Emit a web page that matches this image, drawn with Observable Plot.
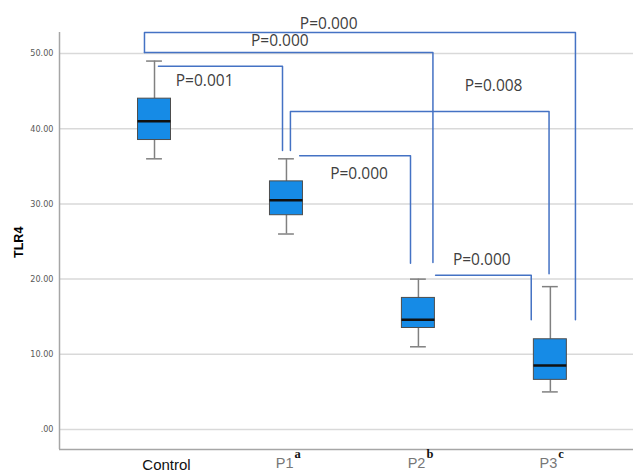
<!DOCTYPE html>
<html>
<head>
<meta charset="utf-8">
<script src="https://cdn.jsdelivr.net/npm/d3@7"></script>
<script src="https://cdn.jsdelivr.net/npm/@observablehq/plot@0.6"></script>
<style>
  html, body { margin: 0; padding: 0; background: #fff; }
  #chart svg { display: block; }
</style>
</head>
<body>
<div id="chart"></div>
<script>
// ---- data ----
const categories = ["Control", "P1", "P2", "P3"];
const superscripts = ["", "a", "b", "c"];
const whiskerLow  = [36.0, 26.0, 11.0, 5.0];
const q1          = [38.5, 28.5, 13.5, 6.6];
const median      = [41.0, 30.5, 14.6, 8.5];
const q3          = [44.0, 33.0, 17.5, 12.0];
const whiskerHigh = [49.0, 36.0, 20.0, 19.0];

const yTicks = [0, 10, 20, 30, 40, 50];

// brackets (x in category-index units, y in TLR4 units)
const bracketX1     = [-0.076, -0.076, 0.03, 1.03, 1.10, 2.13];
const bracketX2     = [3.19, 2.11, 0.97, 2.99, 1.94, 2.855];
const bracketTop    = [52.8, 50.13, 48.3, 42.3, 36.4, 20.5];
const bracketLeftTo = [50.13, null, null, 37.1, null, null];
const bracketRightTo= [14.6, 22.2, 37.1, 20.7, 22.1, 14.6];
const pLabels = ["P=0.000", "P=0.000", "P=0.001", "P=0.008", "P=0.000", "P=0.000"];
const pLabelX = [1.32, 0.95, 0.38, 2.57, 1.55, 2.48];
const pLabelY = [53.9, 51.6, 46.4, 45.7, 34.0, 22.5];

// ---- derived tables ----
const xDomain = [-0.72, 3.63];
const yDomain = [-2.66, 52.8];
const groups = categories.map((c, i) => ({
  i, c, sup: superscripts[i],
  lo: whiskerLow[i], q1: q1[i], med: median[i], q3: q3[i], hi: whiskerHigh[i]
}));
const bracketPts = [];
bracketX1.forEach((x1, k) => {
  if (bracketLeftTo[k] != null) bracketPts.push({k, x: x1, y: bracketLeftTo[k]});
  bracketPts.push({k, x: x1, y: bracketTop[k]});
  bracketPts.push({k, x: bracketX2[k], y: bracketTop[k]});
  bracketPts.push({k, x: bracketX2[k], y: bracketRightTo[k]});
});
const labels = pLabels.map((t, k) => ({t, x: pLabelX[k], y: pLabelY[k]}));
const boxHalf = 0.125, capHalf = 0.06;
const uiFont = "'Open Sans', 'Noto Sans', sans-serif";

const chart = Plot.plot({
  width: 633,
  height: 473,
  marginLeft: 59,
  marginRight: 0,
  marginTop: 32,
  marginBottom: 24,
  style: { fontFamily: uiFont, background: "#fff" },
  x: { type: "linear", domain: xDomain, axis: null },
  y: { domain: yDomain, axis: null },
  marks: [
    Plot.ruleY(yTicks, { stroke: "#d9d9d9", strokeWidth: 1.5 }),
    Plot.ruleX([xDomain[0]], { stroke: "#a6a6a6", strokeWidth: 1.5 }),
    Plot.ruleY([yDomain[0]], { stroke: "#a6a6a6", strokeWidth: 1.5 }),
    Plot.axisY(yTicks, {
      tickSize: 0, tickPadding: 6, label: null,
      tickFormat: d => d === 0 ? ".00" : d.toFixed(2),
      fontSize: 9, fill: "#595959",
      fontFamily: "'Liberation Sans Narrow', 'DejaVu Sans Condensed', sans-serif"
    }),
    Plot.text(["TLR4"], {
      x: () => xDomain[0], y: () => 24.9, dx: -41, rotate: -90,
      fontSize: 12.5, fontWeight: "bold", fill: "#000",
      fontFamily: "'Liberation Sans', Arial, sans-serif"
    }),
    // whiskers
    Plot.ruleX(groups, { x: "i", y1: "lo", y2: "q1", stroke: "#808080", strokeWidth: 1.5 }),
    Plot.ruleX(groups, { x: "i", y1: "q3", y2: "hi", stroke: "#808080", strokeWidth: 1.5 }),
    Plot.ruleY(groups, { y: "lo", x1: d => d.i - capHalf, x2: d => d.i + capHalf, stroke: "#808080", strokeWidth: 1.5 }),
    Plot.ruleY(groups, { y: "hi", x1: d => d.i - capHalf, x2: d => d.i + capHalf, stroke: "#808080", strokeWidth: 1.5 }),
    // boxes
    Plot.rect(groups, {
      x1: d => d.i - boxHalf, x2: d => d.i + boxHalf, y1: "q1", y2: "q3",
      fill: "#168be6", stroke: "#4d4d4d", strokeWidth: 1
    }),
    Plot.ruleY(groups, { y: "med", x1: d => d.i - boxHalf, x2: d => d.i + boxHalf, stroke: "#111", strokeWidth: 2.5 }),
    // brackets
    Plot.line(bracketPts, { x: "x", y: "y", z: "k", stroke: "#4472c4", strokeWidth: 1.5, curve: "linear" }),
    Plot.text(labels, { x: "x", y: "y", text: "t", fontSize: 15.5, fill: "#404040", fontFamily: uiFont }),
    // x labels
    Plot.text(groups.filter(d => d.i === 0), {
      x: "i", y: () => yDomain[0], text: "c", dx: 12, dy: 10, lineAnchor: "top",
      fontSize: 15, fill: "#111", fontFamily: "'Liberation Sans', Arial, sans-serif"
    }),
    Plot.text(groups.filter(d => d.i > 0), {
      x: "i", y: () => yDomain[0], text: "c", dx: 7, dy: 8, lineAnchor: "top", textAnchor: "end",
      fontSize: 14.5, fill: "#777", fontFamily: "'Liberation Sans Narrow', 'Liberation Sans', Arial, sans-serif"
    }),
    Plot.text(groups.filter(d => d.i > 0), {
      x: "i", y: () => yDomain[0], text: "sup", dx: 8, dy: 0, lineAnchor: "top", textAnchor: "start",
      fontSize: 12.5, fontWeight: "bold", fill: "#111", fontFamily: "'Liberation Serif', 'DejaVu Serif', serif"
    })
  ]
});
document.getElementById("chart").append(chart);
</script>
</body>
</html>
